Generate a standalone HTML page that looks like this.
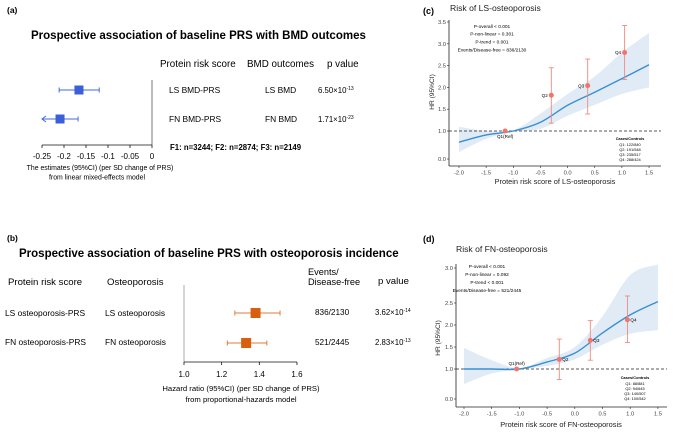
<!DOCTYPE html>
<html><head><meta charset="utf-8"><style>
body{margin:0;background:#fff;width:681px;height:429px;overflow:hidden;font-family:"Liberation Sans",Arial,sans-serif}
svg text{font-family:"Liberation Sans",Arial,sans-serif}
</style></head><body>
<svg id="root" width="681" height="429" viewBox="0 0 681 429">
<g>
<text x="7" y="13" font-size="8.5" font-weight="bold">(a)</text>
<text x="31" y="39" font-size="11.5" font-weight="bold">Prospective association of baseline PRS with BMD outcomes</text>
<text x="160" y="67" font-size="9.8">Protein risk score</text>
<text x="247" y="67" font-size="9.8">BMD outcomes</text>
<text x="327" y="67" font-size="9.8">p value</text>
<text x="169" y="93" font-size="8.4">LS BMD-PRS</text>
<text x="265" y="93" font-size="8.4">LS BMD</text>
<text x="318" y="93" font-size="7.8">6.50×10<tspan font-size="5" dy="-3">-13</tspan></text>
<text x="169" y="122" font-size="8.4">FN BMD-PRS</text>
<text x="265" y="122" font-size="8.4">FN BMD</text>
<text x="318" y="122" font-size="7.8">1.71×10<tspan font-size="5" dy="-3">-23</tspan></text>
<text x="170" y="150" font-size="7.8" font-weight="bold">F1: n=3244; F2: n=2874; F3: n=2149</text>
<text x="100" y="170" font-size="6.9" text-anchor="middle">The estimates (95%CI) (per SD change of PRS)</text>
<text x="97" y="179.5" font-size="6.9" text-anchor="middle">from linear mixed-effects model</text>
</g>
<g>
<text x="7" y="241" font-size="8.5" font-weight="bold">(b)</text>
<text x="19" y="257" font-size="11.5" font-weight="bold">Prospective association of baseline PRS with osteoporosis incidence</text>
<text x="8" y="285" font-size="9.6">Protein risk score</text>
<text x="107" y="285" font-size="9.6">Osteoporosis</text>
<text x="308" y="275" font-size="9.2">Events/</text>
<text x="308" y="285" font-size="9.2">Disease-free</text>
<text x="378" y="284" font-size="9.6">p value</text>
<text x="5" y="316" font-size="8.4">LS osteoporosis-PRS</text>
<text x="105" y="316" font-size="8.4">LS osteoporosis</text>
<text x="315" y="315" font-size="8.2">836/2130</text>
<text x="375" y="315" font-size="7.8">3.62×10<tspan font-size="5" dy="-3">-14</tspan></text>
<text x="5" y="345" font-size="8.4">FN osteoporosis-PRS</text>
<text x="105" y="345" font-size="8.4">FN osteoporosis</text>
<text x="315" y="345" font-size="8.2">521/2445</text>
<text x="375" y="345" font-size="7.8">2.83×10<tspan font-size="5" dy="-3">-13</tspan></text>
<text x="241" y="391" font-size="7.7" text-anchor="middle">Hazard ratio (95%CI) (per SD change of PRS)</text>
<text x="241" y="402" font-size="7.7" text-anchor="middle">from proportional-hazards model</text>
</g>
<g id="c">
<text x="423" y="14" font-size="9" font-weight="bold">(c)</text>
<text x="450" y="11" font-size="8.6" fill="#222">Risk of LS-osteoporosis</text>
<text x="555" y="184" font-size="7.4" text-anchor="middle" fill="#222">Protein risk score of LS-osteoporosis</text>
<text transform="translate(434,92) rotate(-90)" font-size="6.6" text-anchor="middle" fill="#222">HR (95%CI)</text>
<g font-size="4.8" text-anchor="middle">
<text x="492" y="28">P-overall &lt; 0.001</text><text x="492" y="35.5">P-non-linear = 0.301</text><text x="492" y="43.5">P-trend = 0.001</text><text x="492" y="51.5">Events/Disease-free = 836/2130</text></g>
<g font-size="3.9" text-anchor="middle">
<text x="630" y="140" font-weight="bold">Cases/Controls</text><text x="630" y="146">Q1: 122/840</text><text x="630" y="151">Q2: 191/548</text><text x="630" y="156">Q3: 235/517</text><text x="630" y="161">Q4: 288/424</text></g>
</g>
<g id="d">
<text x="423" y="242" font-size="9" font-weight="bold">(d)</text>
<text x="456" y="252" font-size="8.6" fill="#222">Risk of FN-osteoporosis</text>
<text x="561" y="427" font-size="7.4" text-anchor="middle" fill="#222">Protein risk score of FN-osteoporosis</text>
<text transform="translate(440,338) rotate(-90)" font-size="6.6" text-anchor="middle" fill="#222">HR (95%CI)</text>
<g font-size="4.8" text-anchor="middle">
<text x="487" y="268">P-overall &lt; 0.001</text><text x="487" y="276">P-non-linear = 0.092</text><text x="487" y="284">P-trend &lt; 0.001</text><text x="487" y="292">Events/Disease-free = 521/2445</text></g>
<g font-size="3.9" text-anchor="middle">
<text x="635" y="379" font-weight="bold">Cases/Controls</text><text x="635" y="385">Q1: 88/881</text><text x="635" y="390">Q2: 94/645</text><text x="635" y="395">Q3: 140/507</text><text x="635" y="400">Q4: 100/542</text></g>
</g>
</svg>
<script>
// Panel (a) data
const aEst=[-0.166,-0.209];
const aLo=[-0.211,-0.26];
const aHi=[-0.120,-0.168];
const aTicks=[-0.25,-0.2,-0.15,-0.1,-0.05,0];
const aTickLabels=["-0.25","-0.2","-0.15","-0.1","-0.05","0"];
// Panel (b) data
const bEst=[1.38,1.33];
const bLo=[1.27,1.23];
const bHi=[1.51,1.44];
const bTicks=[1.0,1.2,1.4,1.6];
const bTickLabels=["1.0","1.2","1.4","1.6"];
// Panel (c) data
const cCurveX=[-2,-1.5,-1,-0.5,0,0.5,1,1.5];
const cCurve=[0.6,0.86,1.0,1.2,1.59,1.89,2.2,2.52];
const cUpper=[1.1,1.0,1.02,1.4,1.85,2.25,2.8,3.25];
const cLower=[0.25,0.72,0.98,1.05,1.35,1.6,1.85,2.0];
const cQx=[-1.15,-0.3,0.37,1.05];
const cQhr=[1.0,1.82,2.04,2.80];
const cQlo=[1.0,1.18,1.39,2.18];
const cQhi=[1.0,2.45,2.65,3.42];
const cQlab=["Q1(Ref)","Q2","Q3","Q4"];
const cXTicks=[-2,-1.5,-1,-0.5,0,0.5,1,1.5];
const cYTicks=[0,1,1.5,2,2.5,3,3.5];
// Panel (d) data
const dCurveX=[-2,-1.5,-1,-0.5,0,0.5,1,1.5];
const dCurve=[1.0,1.0,1.0,1.16,1.36,1.82,2.23,2.52];
const dUpper=[1.48,1.2,1.02,1.25,1.5,2.2,2.9,3.05];
const dLower=[0.5,0.85,0.98,1.07,1.22,1.55,1.8,1.88];
const dQx=[-1.05,-0.28,0.28,0.95];
const dQhr=[1.0,1.22,1.65,2.12];
const dQlo=[1.0,0.65,1.2,1.6];
const dQhi=[1.0,1.68,2.1,2.6];
const dQlab=["Q1(Ref)","Q2","Q3","Q4"];
const dXTicks=[-2,-1.5,-1,-0.5,0,0.5,1,1.5];
const dYTicks=[0,1,1.5,2,2.5,3];

const NS="http://www.w3.org/2000/svg";
const root=document.getElementById('root');
function el(tag,attrs,parent){const e=document.createElementNS(NS,tag);for(const k in attrs)e.setAttribute(k,attrs[k]);(parent||root).appendChild(e);return e;}
function fmt(v){return v.toFixed(1);}

// ---- Panel a
const axA=v=>152+(v-0)*440;
let g=el('g',{});


el('line',{x1:152,y1:80,x2:152,y2:145,stroke:'#555','stroke-width':0.8},g);
el('line',{x1:axA(-0.25),y1:145,x2:152,y2:145,stroke:'#111','stroke-width':0.8},g);
aTicks.forEach((t,i)=>{
  el('line',{x1:axA(t),y1:145,x2:axA(t),y2:148,stroke:'#111','stroke-width':0.8},g);
  const tx=el('text',{x:axA(t),y:159,'font-size':8,'text-anchor':'middle'},g);tx.textContent=aTickLabels[i];
  
  
});
const aRows=[90,119];
aEst.forEach((v,i)=>{
  const y=aRows[i];const lo=Math.max(aLo[i],-0.25);
  el('line',{x1:axA(lo),y1:y,x2:axA(aHi[i]),y2:y,stroke:'#4169e1','stroke-width':1},g);
  if(aLo[i]<-0.25){el('path',{d:`M${axA(-0.25)+4},${y-3} L${axA(-0.25)},${y} L${axA(-0.25)+4},${y+3}`,fill:'none',stroke:'#4169e1','stroke-width':1},g);}
  else el('line',{x1:axA(lo),y1:y-2.5,x2:axA(lo),y2:y+2.5,stroke:'#4169e1','stroke-width':1},g);
  el('line',{x1:axA(aHi[i]),y1:y-2.5,x2:axA(aHi[i]),y2:y+2.5,stroke:'#4169e1','stroke-width':1},g);
  const r=el('rect',{x:axA(v)-4.5,y:y-4.5,width:9,height:9,fill:'#3a5fd9'},g);
  
  
});

// ---- Panel b
const axB=v=>184+(v-1.0)*188.3;
g=el('g',{});


el('line',{x1:184,y1:285,x2:184,y2:362,stroke:'#bbb','stroke-width':1.2},g);
el('line',{x1:axB(1.0),y1:362,x2:axB(1.6),y2:362,stroke:'#111','stroke-width':0.8},g);
bTicks.forEach((t,i)=>{
  el('line',{x1:axB(t),y1:362,x2:axB(t),y2:365,stroke:'#111','stroke-width':0.8},g);
  const tx=el('text',{x:axB(t),y:377,'font-size':8,'text-anchor':'middle'},g);tx.textContent=bTickLabels[i];
  
  
});
const bRows=[313,343];
bEst.forEach((v,i)=>{
  const y=bRows[i];
  el('line',{x1:axB(bLo[i]),y1:y,x2:axB(bHi[i]),y2:y,stroke:'#e07b39','stroke-width':1},g);
  el('line',{x1:axB(bLo[i]),y1:y-2.5,x2:axB(bLo[i]),y2:y+2.5,stroke:'#e07b39','stroke-width':1},g);
  el('line',{x1:axB(bHi[i]),y1:y-2.5,x2:axB(bHi[i]),y2:y+2.5,stroke:'#e07b39','stroke-width':1},g);
  const r=el('rect',{x:axB(v)-5,y:y-5,width:10,height:10,fill:'#d95f0e'},g);
  
  
});

function spline(pts){
  let d=`M${pts[0][0]},${pts[0][1]}`;
  for(let i=0;i<pts.length-1;i++){
    const p0=pts[Math.max(0,i-1)],p1=pts[i],p2=pts[i+1],p3=pts[Math.min(pts.length-1,i+2)];
    d+=` C${p1[0]+(p2[0]-p0[0])/6},${p1[1]+(p2[1]-p0[1])/6} ${p2[0]-(p3[0]-p1[0])/6},${p2[1]-(p3[1]-p1[1])/6} ${p2[0]},${p2[1]}`;
  }
  return d;
}
function splinePts(pts){return spline(pts).replace(/^M/,'L');}
function drawRCS(cfg){
  const {parent,sx,sy,x0,x1,yTop,yBot,xT,yT,cx,cy,up,lo,qx,qhr,qlo,qhi,qlab,labRight}=cfg;
  const P=document.getElementById(parent);
  const gg=el('g',{},P);
  
  
  const upP=cx.map((x,i)=>[sx(x),sy(up[i])]);
  const loP=cx.map((x,i)=>[sx(x),sy(lo[i])]).reverse();
  const band=el('path',{d:spline(upP)+' '+splinePts(loP)+' Z',fill:'#dbe8f5',opacity:0.85},gg);
  
  
  el('line',{x1:x0,y1:sy(1),x2:x1,y2:sy(1),stroke:'#222','stroke-width':0.8,'stroke-dasharray':'3,2'},gg);
  const cur=el('path',{d:spline(cx.map((x,i)=>[sx(x),sy(cy[i])])),fill:'none',stroke:'#3a8fd0','stroke-width':1.4},gg);
  
  
  el('line',{x1:x0,y1:yTop,x2:x0,y2:yBot,stroke:'#222','stroke-width':0.8},gg);
  el('line',{x1:x0,y1:yBot,x2:x1,y2:yBot,stroke:'#222','stroke-width':0.8},gg);
  xT.forEach(t=>{
    el('line',{x1:sx(t),y1:yBot,x2:sx(t),y2:yBot+2,stroke:'#222','stroke-width':0.6},gg);
    const tx=el('text',{x:sx(t),y:yBot+8.5,'font-size':5.8,'text-anchor':'middle',fill:'#444'},gg);tx.textContent=fmt(t);
    
    
  });
  yT.forEach(t=>{
    el('line',{x1:x0-2,y1:sy(t),x2:x0,y2:sy(t),stroke:'#222','stroke-width':0.6},gg);
    const tx=el('text',{x:x0-3,y:sy(t)+2,'font-size':5.8,'text-anchor':'end',fill:'#444'},gg);tx.textContent=fmt(t);
    
    
  });
  qx.forEach((x,i)=>{
    if(i>0){
      el('line',{x1:sx(x),y1:sy(qlo[i]),x2:sx(x),y2:sy(qhi[i]),stroke:'#f08a80','stroke-width':0.9},gg);
      el('line',{x1:sx(x)-2.5,y1:sy(qlo[i]),x2:sx(x)+2.5,y2:sy(qlo[i]),stroke:'#f08a80','stroke-width':0.9},gg);
      el('line',{x1:sx(x)-2.5,y1:sy(qhi[i]),x2:sx(x)+2.5,y2:sy(qhi[i]),stroke:'#f08a80','stroke-width':0.9},gg);
    }
    const c=el('circle',{cx:sx(x),cy:sy(qhr[i]),r:2.5,fill:'#f4736b'},gg);
    
    
    let lx,ly,anc;
    if(i===0){lx=sx(x);ly=labRight?sy(qhr[i])-4:sy(qhr[i])+7;anc='middle';}
    else if(labRight){lx=sx(x)+3;ly=sy(qhr[i])+1.7;anc='start';}
    else{lx=sx(x)-3.5;ly=sy(qhr[i])+1.7;anc='end';}
    const tx=el('text',{x:lx,y:ly,'font-size':4.6,'text-anchor':anc},gg);tx.textContent=qlab[i];
    
    
  });
}
const syC=v=>v>=1?131-(v-1)*43.6:159-v*28;
const sxC=v=>459+(v+2)*54.3;
drawRCS({parent:'c',sx:sxC,sy:syC,x0:449,x1:661,yTop:20,yBot:166,xT:cXTicks,yT:cYTicks,cx:cCurveX,cy:cCurve,up:cUpper,lo:cLower,qx:cQx,qhr:cQhr,qlo:cQlo,qhi:cQhi,qlab:cQlab,labRight:false});
const syD=v=>v>=2.5?303-(v-2.5)*70:(v>=1?369-(v-1)*44:399-v*30);
const sxD=v=>464+(v+2)*55.4;
drawRCS({parent:'d',sx:sxD,sy:syD,x0:456,x1:667,yTop:264,yBot:407,xT:dXTicks,yT:dYTicks,cx:dCurveX,cy:dCurve,up:dUpper,lo:dLower,qx:dQx,qhr:dQhr,qlo:dQlo,qhi:dQhi,qlab:dQlab,labRight:true});
</script>
</body></html>
